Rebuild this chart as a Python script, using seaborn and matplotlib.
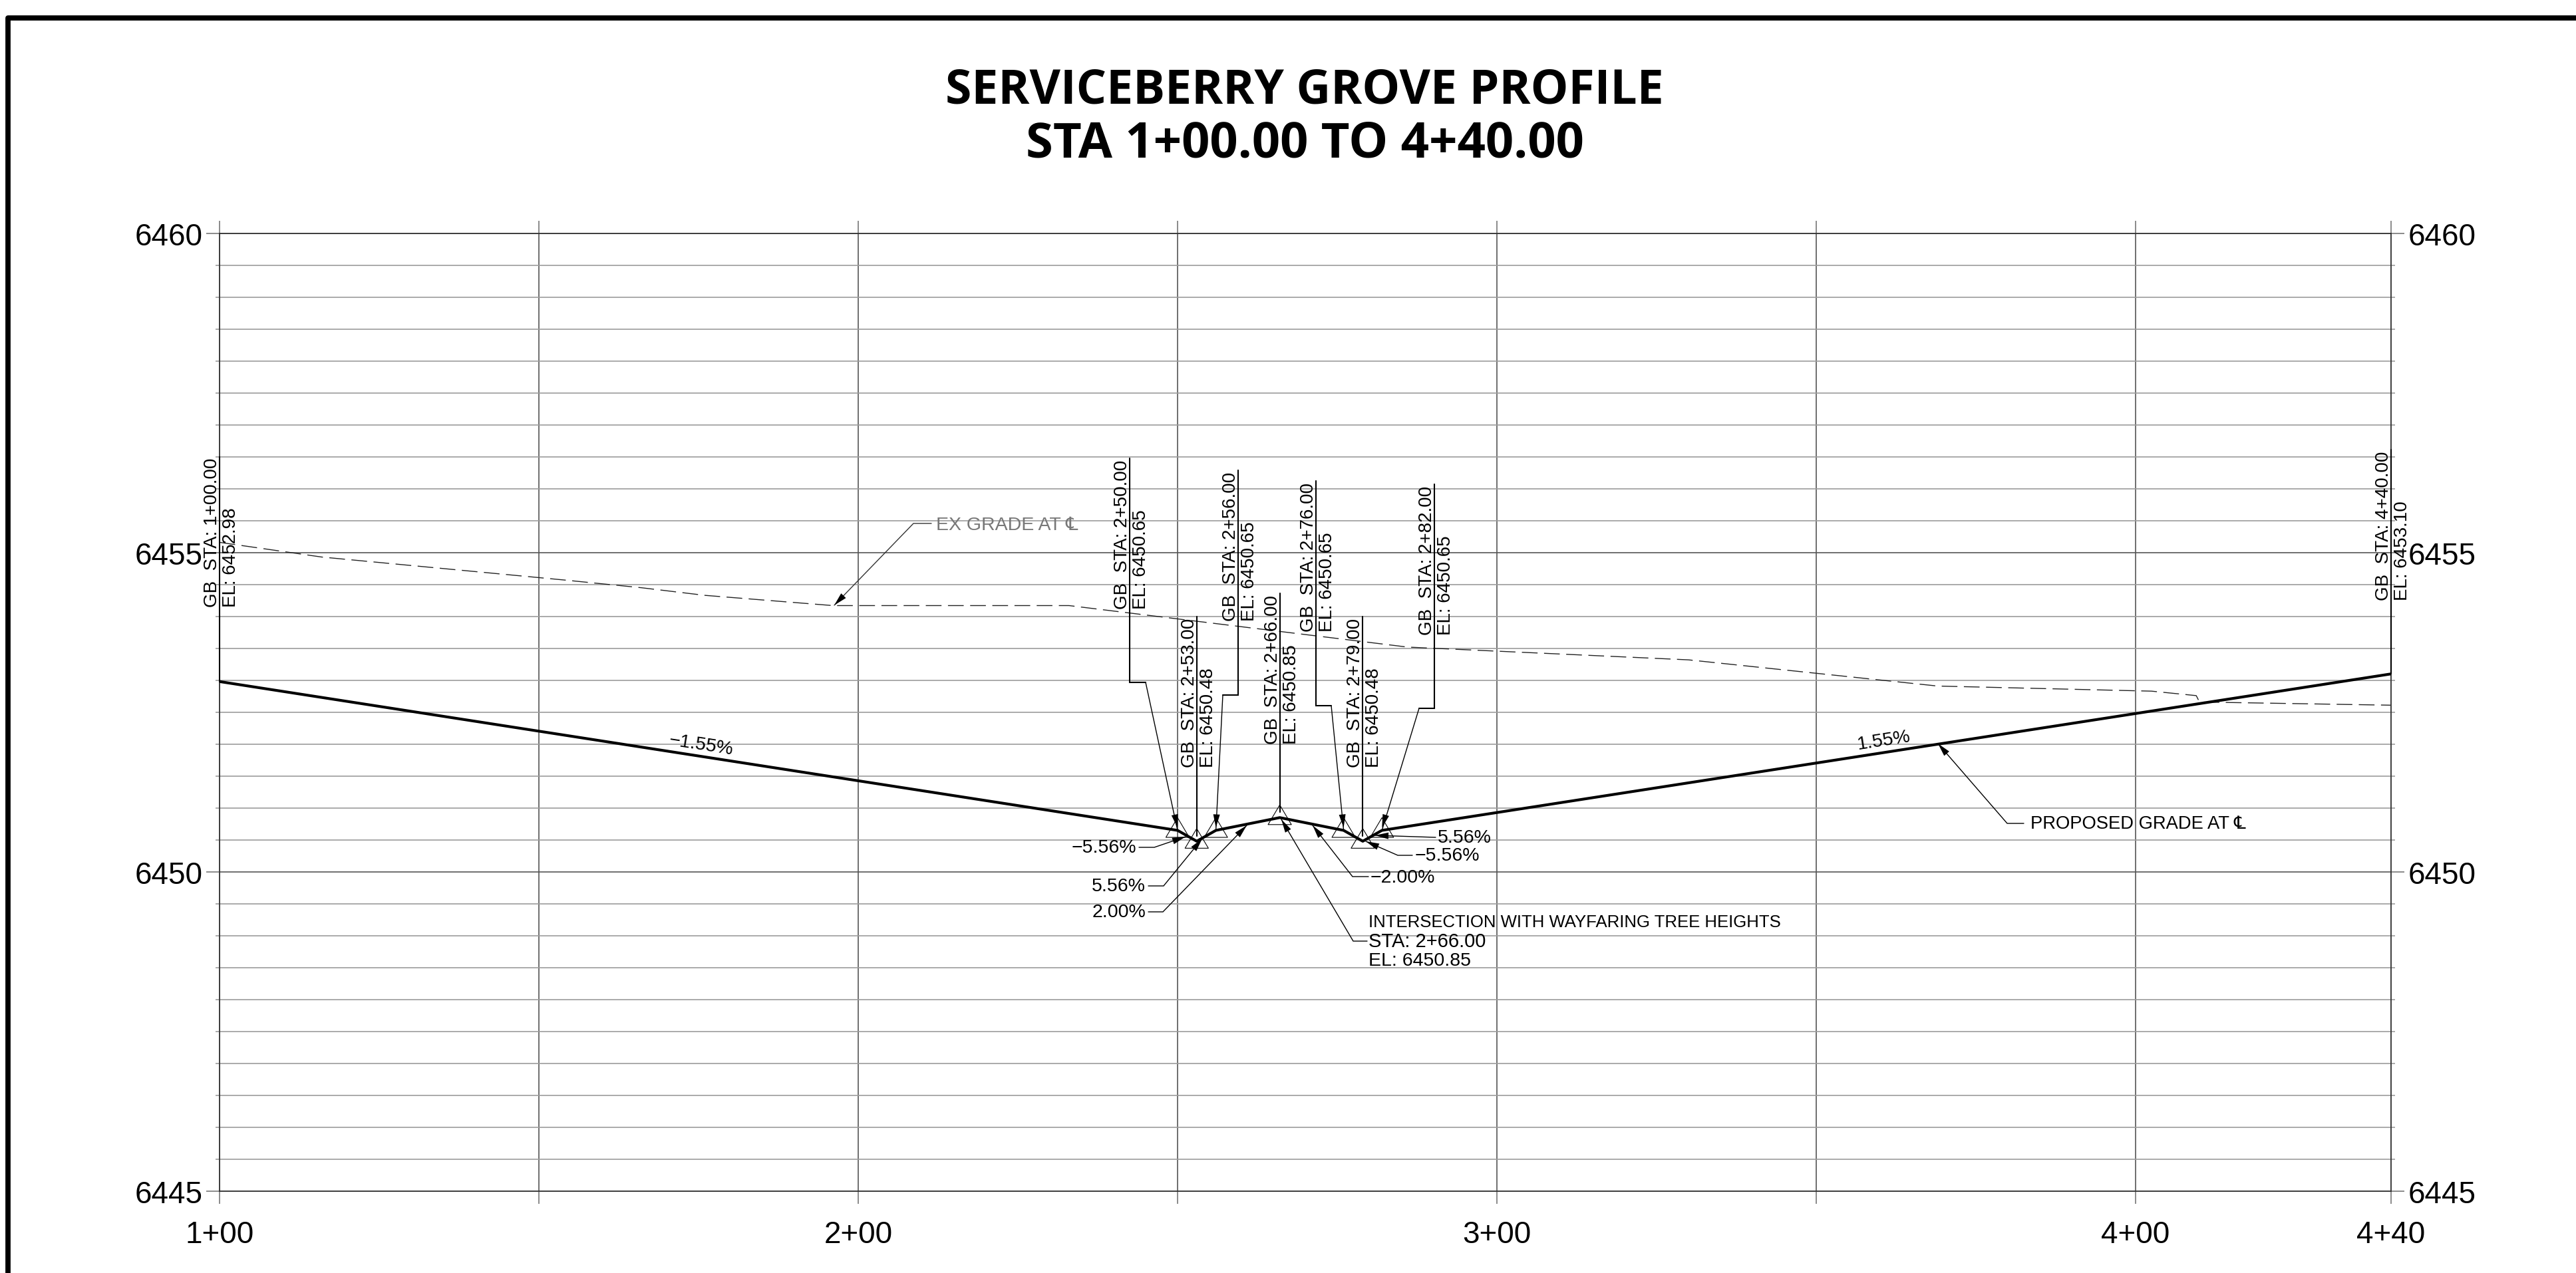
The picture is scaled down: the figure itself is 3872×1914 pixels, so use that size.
import matplotlib
matplotlib.use('Agg')
import matplotlib.pyplot as plt
import numpy as np
import seaborn as sns
from matplotlib.lines import Line2D
from matplotlib.patches import Polygon
from matplotlib.path import Path
from matplotlib.transforms import Affine2D

# proposed grade at centerline
prop_sta = [100, 250, 253, 256, 266, 276, 279, 282, 440]
prop_el = [6452.98, 6450.65, 6450.48, 6450.65, 6450.85, 6450.65, 6450.48, 6450.65, 6453.10]

# existing grade at centerline
ex_sta = [100, 116, 154, 166, 176, 196, 233, 286, 330, 369, 402.5, 409.5, 410, 440]
ex_el = [6455.16, 6454.93, 6454.57, 6454.45, 6454.33, 6454.17, 6454.17, 6453.52, 6453.32,
         6452.91, 6452.83, 6452.76, 6452.66, 6452.61]

# grade break stations that get a triangle
gb_sta = [250, 253, 256, 266, 276, 279, 282]
gb_el = [6450.65, 6450.48, 6450.65, 6450.85, 6450.65, 6450.48, 6450.65]

x_ticks = [100, 150, 200, 250, 300, 350, 400, 440]
x_labels = ['1+00', '', '2+00', '', '3+00', '', '4+00', '4+40']
y_major = [6445, 6450, 6455, 6460]
y_minor = [6445.5 + 0.5 * i for i in range(29) if (6445.5 + 0.5 * i) % 5 != 0]
title_lines = ['SERVICEBERRY GROVE PROFILE', 'STA 1+00.00 TO 4+40.00']

W, H = 3872, 1915
AX_L, AX_R, AX_T, AX_B = 330, 3594, 351.7, 1792
px = Affine2D().scale(1, -1).translate(0, H)
SANS = ['Liberation Sans', 'DejaVu Sans']

sns.set_theme(style='white')
plt.rcParams['font.family'] = SANS

fig = plt.figure(figsize=(W / 100, H / 100), dpi=100)
ax = fig.add_axes([AX_L / W, 1 - AX_B / H, (AX_R - AX_L) / W, (AX_B - AX_T) / H])
ax.set_xlim(100, 440)
ax.set_ylim(6445, 6460)

# grid comes from the ticks, ticks stick out past the frame
ax.set_xticks(x_ticks)
ax.set_xticklabels(x_labels, fontsize=33, color='black')
ax.set_yticks(y_major)
ax.set_yticklabels([str(v) for v in y_major], fontsize=33, color='black')
ax.set_yticks(y_minor, minor=True)
ax.grid(True, which='major', axis='y', color='#555555', linewidth=1.2)
ax.grid(True, which='minor', axis='y', color='#9c9c9c', linewidth=1.2)
ax.grid(True, which='major', axis='x', color='#555555', linewidth=1.2)
ax.tick_params(axis='y', which='major', left=True, right=True, labelleft=True, labelright=True,
               length=14.4, width=1.2, color='#777777', pad=4)
ax.tick_params(axis='y', which='minor', left=True, right=True, length=4, width=1.2, color='#9c9c9c')
ax.tick_params(axis='x', which='major', bottom=True, top=True, length=14, width=1.2,
               color='#777777', pad=17)
ax.set_axisbelow(True)
for s in ax.spines.values():
    s.set_visible(True)
    s.set_color('#333333')
    s.set_linewidth(1.3)

sns.lineplot(x=ex_sta, y=ex_el, ax=ax, color='#222222', linewidth=1.0, estimator=None,
             linestyle=(0, (17, 7)))
sns.lineplot(x=prop_sta, y=prop_el, ax=ax, color='black', linewidth=3.0, estimator=None, zorder=5)

tri = Path([(0, 19), (-17.5, -10.5), (17.5, -10.5), (0, 19)], closed=True)
sns.scatterplot(x=gb_sta, y=gb_el, ax=ax, marker=tri, s=27.4 ** 2, facecolor='none',
                edgecolor='black', linewidth=0.8, zorder=4)


def pt(sta, el):
    x, y = ax.transData.transform((sta, el))
    return x, H - y


def poly(points, lw=1.0, color='black'):
    xs = [p[0] for p in points]
    ys = [p[1] for p in points]
    fig.add_artist(Line2D(xs, ys, transform=px, color=color, linewidth=lw, solid_joinstyle='miter'))


def head(tail, tip, length=20, half=5):
    d = np.array(tip, float) - np.array(tail, float)
    d = d / np.hypot(*d)
    n = np.array([-d[1], d[0]])
    b = np.array(tip) - d * length
    fig.add_artist(Polygon([tip, b + n * half, b - n * half], closed=True, transform=px,
                           facecolor='black', edgecolor='none', zorder=6))


def label(x, y, s, size=20.5, **kw):
    kw.setdefault('ha', 'left')
    kw.setdefault('va', 'center')
    fig.text(x, y, s, transform=px, fontsize=size, family=SANS, color=kw.pop('color', 'black'), **kw)


# vertical grade break callouts: station text, elevation text, line x, top of line, knee
gb_text = [
    ('GB  STA: 2+50.00', 'EL: 6450.65', 1698, 690, 1027, 1722),
    ('GB  STA: 2+53.00', 'EL: 6450.48', 1798.8, 928, None, None),
    ('GB  STA: 2+56.00', 'EL: 6450.65', 1861, 708, 1046, 1838),
    ('GB  STA: 2+66.00', 'EL: 6450.85', 1923.6, 893, None, None),
    ('GB  STA: 2+76.00', 'EL: 6450.65', 1977.5, 724, 1062, 2001),
    ('GB  STA: 2+79.00', 'EL: 6450.48', 2048.4, 928, None, None),
    ('GB  STA: 2+82.00', 'EL: 6450.65', 2156, 729, 1066, 2133),
]
for (t1, t2, lx, top, bot, knee), sta, el in zip(gb_text, gb_sta, gb_el):
    tip = pt(sta, el)
    if bot is None:
        poly([(lx, top), (lx, tip[1] - 8)], lw=1.5)
    else:
        poly([(lx, top), (lx, bot), (knee, bot)], lw=1.5)
        poly([(knee, bot), tip])
        head((knee, bot), (tip[0], tip[1] - 4))
    label(lx + 2, top + 226, t1, size=20, rotation=90, ha='right', va='bottom')
    label(lx + 4, top + 226, t2, size=20, rotation=90, ha='left', va='bottom')

# end of profile callouts
poly([(AX_L, 688), pt(100, 6452.98)], lw=1.5)
label(AX_L + 2, 913, 'GB  STA: 1+00.00', size=20, rotation=90, ha='right', va='bottom')
label(AX_L + 4, 913, 'EL: 6452.98', size=20, rotation=90, ha='left', va='bottom')
poly([(AX_R, 677), pt(440, 6453.10)], lw=1.5)
label(AX_R + 2, 903, 'GB  STA: 4+40.00', size=20, rotation=90, ha='right', va='bottom')
label(AX_R + 4, 903, 'EL: 6453.10', size=20, rotation=90, ha='left', va='bottom')

# slope callouts
slopes = [
    ('\u22125.56%', 1708, 1275, 'right', [(1712, 1275), (1735, 1275), (1782, 1259)]),
    ('5.56%', 1722, 1333, 'right', [(1726, 1333), (1749, 1333), (1807, 1262)]),
    ('2.00%', 1722, 1372, 'right', [(1726, 1372), (1748, 1372), (1874, 1242)]),
    ('\u22122.00%', 2060, 1320, 'left', [(2057, 1319), (2033, 1319), (1973, 1242)]),
    ('\u22125.56%', 2127, 1287, 'left', [(2123, 1287), (2101, 1287), (2053, 1266)]),
    ('5.56%', 2161, 1260, 'left', [(2158, 1260), (2067, 1257)]),
]
for s, tx, ty, ha, pts in slopes:
    label(tx, ty, s, ha=ha)
    poly(pts)
    head(pts[-2], pts[-1])

label(1054, 1121, '\u22121.55%', ha='center', rotation=-8.8, rotation_mode='anchor')
label(2832, 1114, '1.55%', ha='center', rotation=8.8, rotation_mode='anchor')

# intersection note
pts = [(2055, 1416), (2034, 1416), (1926, 1233)]
poly(pts)
head(pts[1], pts[2])
label(2057, 1387, 'INTERSECTION WITH WAYFARING TREE HEIGHTS', size=18.5)
label(2057, 1416, 'STA: 2+66.00', size=21)
label(2057, 1445, 'EL: 6450.85', size=20.5)

# grade labels
pts = [(1400, 788), (1373, 788), (1254, 911)]
poly(pts, color='#333333')
head(pts[1], pts[2])
label(1407, 790, 'EX GRADE AT \u2104', size=20.5, color='#777777')
pts = [(3042, 1239), (3017, 1239), (2913, 1119)]
poly(pts)
head(pts[1], pts[2])
label(3052, 1239, 'PROPOSED GRADE AT \u2104', size=19.7)

# title
fig.text(1961, 137, title_lines[0], transform=px, fontsize=51.5, fontweight='bold', family='Open Sans',
         ha='center', va='center', color='black')
fig.text(1961, 218, title_lines[1], transform=px, fontsize=53.5, fontweight='bold', family='Open Sans',
         ha='center', va='center', color='black')

# sheet border, only top and left are on this crop
fig.add_artist(Line2D([12, 12, W], [H, 28, 28], transform=px, color='black', linewidth=5.6,
                      solid_joinstyle='round'))

fig.savefig('out.png', dpi=100)
